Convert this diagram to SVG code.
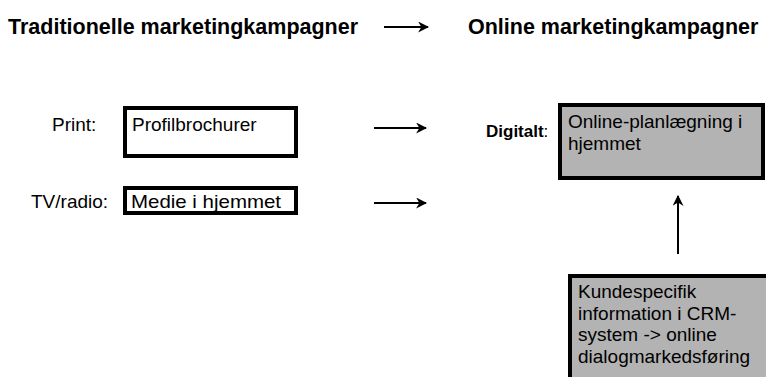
<svg xmlns="http://www.w3.org/2000/svg" width="766" height="377" viewBox="0 0 766 377">
  <defs>
    <marker id="arrow" viewBox="0 0 10 10" refX="9" refY="5" markerWidth="11" markerHeight="11" markerUnits="userSpaceOnUse" orient="auto">
      <path d="M0,0 L10,5 L0,10 L3,5 Z" fill="#000"/>
    </marker>
  </defs>
  <style>
    text { font-family: "Liberation Sans", Arial, sans-serif; fill: #000; }
    .title { font-size: 21.5px; font-weight: bold; }
    .lbl { font-size: 19px; }
    .box { fill: #fff; stroke: #000; stroke-width: 4; }
    .gray { fill: #b3b3b3; stroke: #000; stroke-width: 4; }
    .conn { stroke: #000; stroke-width: 2; fill: none; marker-end: url(#arrow); }
  </style>
  <rect width="766" height="377" fill="#fff"/>

  <g id="title-traditional"><text class="title" x="8" y="34">Traditionelle marketingkampagner</text></g>
  <g id="title-online"><text class="title" x="468" y="34">Online marketingkampagner</text></g>

  <g id="print">
    <text class="lbl" x="52" y="131">Print:</text>
    <rect class="box" x="125" y="108" width="171" height="48"/>
    <text class="lbl" x="132" y="131">Profilbrochurer</text>
  </g>
  <g id="tvradio">
    <text class="lbl" x="31" y="208">TV/radio:</text>
    <rect class="box" x="125" y="188" width="171" height="25"/>
    <text class="lbl" x="131" y="208" textLength="150" lengthAdjust="spacingAndGlyphs">Medie i hjemmet</text>
  </g>
  <g id="digital">
    <text x="486" y="137" style="font-size:17px"><tspan font-weight="bold">Digitalt</tspan>:</text>
    <rect class="gray" x="560" y="105" width="203" height="73"/>
    <text class="lbl" x="568" y="128">Online-planlægning i</text>
    <text class="lbl" x="568" y="150">hjemmet</text>
  </g>
  <g id="crm">
    <rect class="gray" x="570" y="276" width="210" height="120"/>
    <text class="lbl" x="578" y="298">Kundespecifik</text>
    <text class="lbl" x="578" y="320">information i CRM-</text>
    <text class="lbl" x="578" y="341">system -&gt; online</text>
    <text class="lbl" x="578" y="363">dialogmarkedsføring</text>
  </g>

  <g id="connectors">
    <line class="conn" x1="384" y1="27" x2="428" y2="27"/>
    <line class="conn" x1="374" y1="128" x2="426" y2="128"/>
    <line class="conn" x1="374" y1="203" x2="426" y2="203"/>
    <line class="conn" x1="678" y1="254" x2="678" y2="196"/>
  </g>
</svg>
